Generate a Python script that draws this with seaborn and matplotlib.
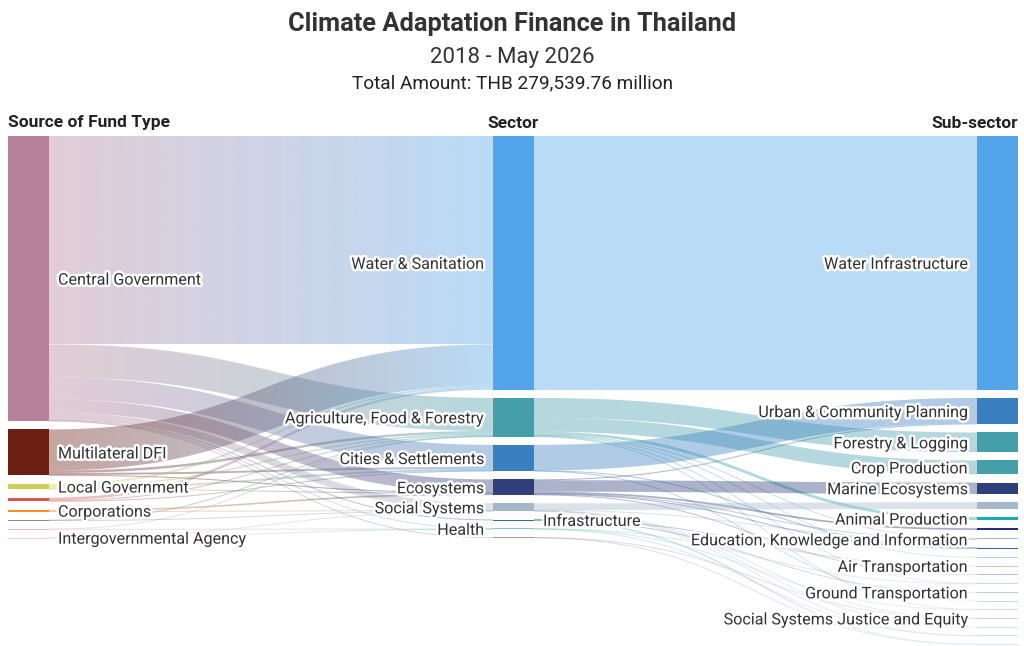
import numpy as np
import matplotlib
matplotlib.use("Agg")
import matplotlib.pyplot as plt
import matplotlib.patheffects as pe
from matplotlib.path import Path
from matplotlib.patches import PathPatch, Rectangle
import seaborn as sns

# ---- data (THB million) ----
sources = ["Central Government", "Multilateral DFI", "Local Government", "src_4",
           "Corporations", "src_6", "src_7", "Intergovernmental Agency"]
source_colors = ["#b5819b", "#6e1f13", "#cfcd5a", "#d9534f",
                 "#f0922a", "#8c8c8c", "#f4b6c2", "#f7c6cf"]
source_show = [True, True, True, False, True, False, False, True]

sectors = ["Water & Sanitation", "Agriculture, Food & Forestry", "Cities & Settlements",
           "Ecosystems", "Social Systems", "Infrastructure", "Health", "sec_8"]
sector_colors = ["#52a5ea", "#459fab", "#3a7fc0", "#2e3f7c",
                 "#a5b8c9", "#2e6f8e", "#7fc9c9", "#9a9aaa"]
sector_show = [True, True, True, True, True, True, True, False]

subsectors = ["Water Infrastructure", "Urban & Community Planning", "Forestry & Logging",
              "Crop Production", "Marine Ecosystems", "sub_6", "Animal Production", "sub_8",
              "Education, Knowledge and Information", "sub_10", "sub_11", "Air Transportation",
              "sub_13", "sub_14", "Ground Transportation", "sub_16", "sub_17",
              "Social Systems Justice and Equity", "sub_19", "sub_20", "sub_21"]
subsector_colors = ["#52a5ea", "#3a7fc0", "#459fab", "#459fab", "#2e3f7c", "#a5b8c9",
                    "#1aa9b0", "#1f2f80", "#a5b8c9", "#3d5fb0", "#a8d8d8", "#e8b8c0",
                    "#b8b8e0", "#b8e0e0", "#c8c8c8", "#c8d8e8", "#c8e0d8", "#d0d0d8",
                    "#d0dce8", "#d8d8e0", "#d8e4e4"]
subsector_show = [True, True, True, True, True, False, True, False, True, False, False,
                  True, False, False, True, False, False, True, False, False, False]

# source -> sector
flow1_src = ["Central Government"] * 8 + ["Multilateral DFI"] * 4 + ["Local Government"] * 4 \
    + ["src_4"] * 3 + ["Corporations"] * 2 + ["src_6"] * 2 + ["src_7"] * 2 \
    + ["Intergovernmental Agency"] * 2
flow1_dst = ["Water & Sanitation", "Agriculture, Food & Forestry", "Cities & Settlements",
             "Ecosystems", "Social Systems", "Infrastructure", "Health", "sec_8",
             "Water & Sanitation", "Agriculture, Food & Forestry", "Cities & Settlements", "Ecosystems",
             "Water & Sanitation", "Agriculture, Food & Forestry", "Cities & Settlements", "Ecosystems",
             "Water & Sanitation", "Agriculture, Food & Forestry", "Cities & Settlements",
             "Ecosystems", "Social Systems",
             "Agriculture, Food & Forestry", "Social Systems",
             "Agriculture, Food & Forestry", "Health",
             "Social Systems", "Health"]
flow1_val = [169040, 26800, 17900, 10600, 5700, 600, 450, 350,
             33300, 2000, 1600, 400,
             1500, 1200, 1600, 400,
             2000, 800, 300,
             1300, 300,
             400, 300,
             250, 100,
             200, 100]

# sector -> sub-sector
flow2_src = ["Water & Sanitation"] + ["Cities & Settlements"] * 3 \
    + ["Agriculture, Food & Forestry"] * 7 + ["Ecosystems"] * 6 + ["Social Systems"] * 5 \
    + ["Infrastructure"] * 3 + ["Health"] * 3 + ["sec_8"] * 2
flow2_dst = ["Water Infrastructure",
             "Urban & Community Planning", "sub_10", "sub_16",
             "Forestry & Logging", "Crop Production", "Animal Production",
             "Education, Knowledge and Information", "sub_11", "sub_14", "sub_17",
             "Urban & Community Planning", "Marine Ecosystems", "sub_8",
             "Education, Knowledge and Information", "sub_10", "sub_13",
             "sub_6", "Education, Knowledge and Information", "Social Systems Justice and Equity",
             "sub_19", "sub_20",
             "Air Transportation", "Ground Transportation", "sub_21",
             "sub_14", "sub_17", "sub_20",
             "Social Systems Justice and Equity", "sub_21"]
flow2_val = [205840,
             20800, 300, 300,
             16000, 11300, 2300, 500, 500, 600, 250,
             600, 9300, 1400, 300, 600, 500,
             5500, 200, 300, 300, 200,
             250, 250, 100,
             200, 250, 200,
             200, 150]

# ---- sankey layout (d3-style, nodes stacked from top) ----
sns.set_theme(style="white")
plt.rcParams["font.family"] = ["Roboto", "DejaVu Sans"]

columns = [sources, sectors, subsectors]
col_colors = [source_colors, sector_colors, subsector_colors]
col_show = [source_show, sector_show, subsector_show]
col_x = [8, 493, 977]
node_w = 41
y_top, y_bot, pad = 136, 644.5, 8.2

links = [(s, t, v, 0) for s, t, v in zip(flow1_src, flow1_dst, flow1_val)] + \
        [(s, t, v, 1) for s, t, v in zip(flow2_src, flow2_dst, flow2_val)]

node_in = {}
node_out = {}
for s, t, v, _ in links:
    node_out[s] = node_out.get(s, 0) + v
    node_in[t] = node_in.get(t, 0) + v
value = {n: max(node_in.get(n, 0), node_out.get(n, 0)) for col in columns for n in col}

ky = min((y_bot - y_top - (len(col) - 1) * pad) / sum(value[n] for n in col) for col in columns)

pos = {}
for ci, col in enumerate(columns):
    y = y_top
    for i, n in enumerate(col):
        h = value[n] * ky
        pos[n] = dict(x0=col_x[ci], x1=col_x[ci] + node_w, y0=y, y1=y + h,
                      color=col_colors[ci][i], show=col_show[ci][i], col=ci)
        y += h + pad

order = {n: i for col in columns for i, n in enumerate(col)}

# stack link ends: outgoing sorted by target order, incoming by source order
out_off = {n: pos[n]["y0"] for n in pos}
in_off = {n: pos[n]["y0"] for n in pos}
link_geo = []
for s, t, v, st in sorted(links, key=lambda l: (order[l[0]], order[l[1]])):
    link_geo.append([s, t, v, out_off[s], None])
    out_off[s] += v * ky
for lg in sorted(link_geo, key=lambda l: (order[l[1]], order[l[0]])):
    lg[4] = in_off[lg[1]]
    in_off[lg[1]] += lg[2] * ky

# ---- draw ----
fig = plt.figure(figsize=(10.24, 6.46), dpi=100)
ax = fig.add_axes([0, 0, 1, 1])
ax.set_xlim(0, 1024)
ax.set_ylim(646, 0)
ax.axis("off")

tt = np.linspace(0, 1, 80)
for s, t, v, ys, yt in link_geo:
    w = max(v * ky, 1.0)
    x0, x1 = pos[s]["x1"], pos[t]["x0"]
    ys_c, yt_c = ys + v * ky / 2, yt + v * ky / 2
    xm = (x0 + x1) / 2
    bx = (1 - tt) ** 3 * x0 + 3 * (1 - tt) ** 2 * tt * xm + 3 * (1 - tt) * tt ** 2 * xm + tt ** 3 * x1
    by = (1 - tt) ** 3 * ys_c + 3 * (1 - tt) ** 2 * tt * ys_c + 3 * (1 - tt) * tt ** 2 * yt_c + tt ** 3 * yt_c
    dx, dy = np.gradient(bx), np.gradient(by)
    nrm = np.hypot(dx, dy)
    nx, ny = -dy / nrm, dx / nrm
    top = np.column_stack([bx + nx * w / 2, by + ny * w / 2])
    bot = np.column_stack([bx - nx * w / 2, by - ny * w / 2])
    poly = np.vstack([top, bot[::-1], top[:1]])
    patch = PathPatch(Path(poly, closed=True), facecolor="none", edgecolor="none")
    ax.add_patch(patch)
    grad = np.array(sns.blend_palette([pos[s]["color"], pos[t]["color"]], n_colors=64))
    img = np.concatenate([grad, np.full((64, 1), 0.4)], axis=1)[None, :, :]
    im = ax.imshow(img, extent=(x0, x1, poly[:, 1].max() + 1, poly[:, 1].min() - 1),
                   aspect="auto", interpolation="bilinear", zorder=1)
    im.set_clip_path(patch)

halo = [pe.withStroke(linewidth=3.5, foreground="white")]
for n, p in pos.items():
    h = max(p["y1"] - p["y0"], 1.0)
    ax.add_patch(Rectangle((p["x0"], p["y0"]), node_w, h, facecolor=p["color"],
                           edgecolor="none", zorder=2))
    if not p["show"]:
        continue
    yc = (p["y0"] + p["y1"]) / 2 + 1.5
    if p["col"] == 0 or n == "Infrastructure":
        ax.text(p["x1"] + 9, yc, n, ha="left", va="center", fontsize=11.6,
                color="#333333", path_effects=halo, zorder=3)
    else:
        ax.text(p["x0"] - 9, yc, n, ha="right", va="center", fontsize=11.6,
                color="#333333", path_effects=halo, zorder=3)

ax.set_xlim(0, 1024)
ax.set_ylim(646, 0)

# titles and column headers
ax.text(512, 24, "Climate Adaptation Finance in Thailand", ha="center", va="center",
        fontsize=18.3, fontweight="bold", color="#333333")
ax.text(512, 57, "2018 - May 2026", ha="center", va="center", fontsize=16,
        color="#333333")
ax.text(512, 83, "Total Amount: THB 279,539.76 million", ha="center", va="center",
        fontsize=13.7, color="#222222")
ax.text(8, 123, "Source of Fund Type", ha="left", va="center", fontsize=12.5,
        fontweight="bold", color="#222222")
ax.text(513, 123, "Sector", ha="center", va="center", fontsize=12.5,
        fontweight="bold", color="#222222")
ax.text(1018, 123, "Sub-sector", ha="right", va="center", fontsize=12.5,
        fontweight="bold", color="#222222")

fig.savefig("out.png", dpi=100, facecolor="white")
